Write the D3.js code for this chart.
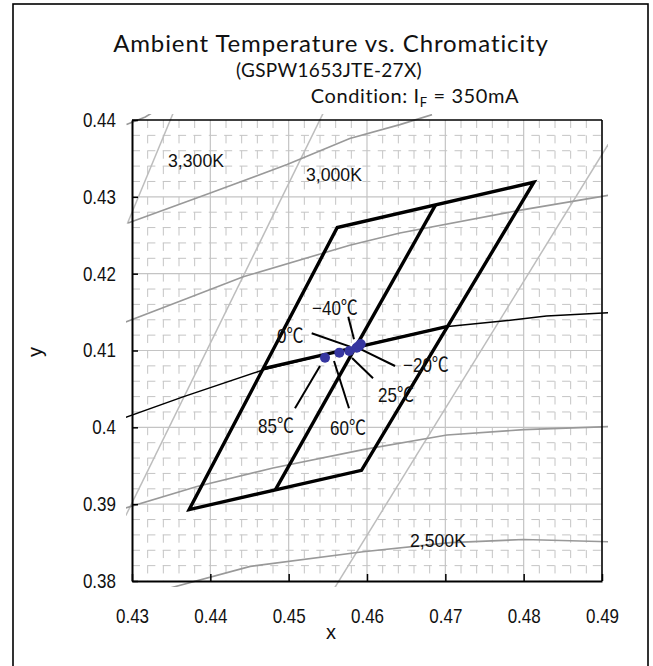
<!DOCTYPE html>
<html><head><meta charset="utf-8">
<script src="https://cdn.jsdelivr.net/npm/d3@7"></script>
<style>
html,body{margin:0;padding:0;background:#fff;}
svg{display:block;}
</style></head><body>
<svg id="chart" width="653" height="666"></svg>
<script>
// ---------- data ----------
const xTicks = [0.43, 0.44, 0.45, 0.46, 0.47, 0.48, 0.49];
const xTickLabels = ["0.43", "0.44", "0.45", "0.46", "0.47", "0.48", "0.49"];
const yTicks = [0.38, 0.39, 0.40, 0.41, 0.42, 0.43, 0.44];
const yTickLabels = ["0.38", "0.39", "0.4", "0.41", "0.42", "0.43", "0.44"];

// black-body locus (x, y)
const planckLocus = [[0.4292,0.4013],[0.4366,0.4040],[0.4468,0.4075],[0.4617,0.4112],[0.4700,0.4131],[0.4770,0.4138],[0.4829,0.4145],[0.4908,0.4149]];
// isotherm (CCT) lines
const iso3300 = [[0.4355,0.4415],[0.4294,0.4265]];
const iso3000 = [[0.4547,0.4415],[0.4292,0.3885]];
const iso2500 = [[0.4912,0.4375],[0.4555,0.3785]];
// Duv lines
const duvA = [[0.4293,0.4394],[0.4317,0.4404],[0.4330,0.4412]];
const duvB = [[0.4295,0.4266],[0.4400,0.4305],[0.4498,0.4342],[0.4578,0.4376],[0.4642,0.4394],[0.4683,0.4407]];
const duvC = [[0.4292,0.4137],[0.4366,0.4166],[0.4442,0.4196],[0.4578,0.4237],[0.4642,0.4253],[0.4798,0.4283],[0.4908,0.4302]];
const duvD = [[0.4292,0.3895],[0.4383,0.3923],[0.4480,0.3947],[0.4595,0.3971],[0.4702,0.3990],[0.4800,0.3997],[0.4908,0.4001]];
const duvE = [[0.4349,0.3791],[0.4451,0.3819],[0.4595,0.3838],[0.4706,0.3850],[0.4800,0.3854],[0.4908,0.3851]];
// ANSI quadrangle and its divisions
const quadOuter = [[0.4813,0.4319],[0.4562,0.4260],[0.4373,0.3893],[0.4593,0.3944]];
const quadDivA = [[0.46875,0.42895],[0.4483,0.39185]];
const quadDivB = [[0.44675,0.40765],[0.4703,0.41315]];
// measured chromaticity by ambient temperature
const tempLabels = ["85℃", "60℃", "25℃", "0℃", "−20℃", "−40℃"];
const tempX = [0.45464, 0.45647, 0.45774, 0.45869, 0.45900, 0.45920];
const tempY = [0.40906, 0.40972, 0.40994, 0.41037, 0.41060, 0.41085];
// annotation leaders (data coords) and label anchors, same order as tempLabels
const leaderFrom = [[0.45400,0.40798],[0.45579,0.40863],[0.45809,0.40902],[0.45783,0.41050],[0.45885,0.41033],[0.45834,0.41146]];
const leaderTo   = [[0.45081,0.40248],[0.45770,0.40248],[0.46077,0.40638],[0.45294,0.41224],[0.46358,0.40798],[0.45761,0.41440]];
const labelAt    = [[0.44609,0.39926],[0.45528,0.39900],[0.46141,0.40330],[0.44851,0.41098],[0.46460,0.40720],[0.45298,0.41462]];
const cctLabels = ["3,300K", "3,000K", "2,500K"];
const cctLabelAt = [[0.43460,0.43389],[0.45221,0.43206],[0.46549,0.38443]];

// ---------- layout ----------
const svg = d3.select("#chart");
const L = 132, R = 602, T = 120, B = 581;
const x = d3.scaleLinear().domain([0.43, 0.49]).range([L, R]);
const y = d3.scaleLinear().domain([0.38, 0.44]).range([B, T]);
const chartFont = "'Liberation Sans', Arial, 'Noto Sans CJK JP', sans-serif";
const titleFont = "Lato, 'Open Sans', sans-serif";
const NARROW = 0.85;

function narrowText(px, py, txt, size, sx) {
  return svg.append("text")
    .attr("transform", `translate(${px},${py}) scale(${sx},1)`)
    .attr("font-family", chartFont).attr("font-size", size).attr("fill", "#111").text(txt);
}

// outer frame
svg.append("rect").attr("x", 13).attr("y", 4).attr("width", 635).attr("height", 680)
  .attr("fill", "none").attr("stroke", "#000").attr("stroke-width", 1.6);

// titles
svg.append("text").attr("x", 331).attr("y", 52).attr("text-anchor", "middle")
  .attr("font-family", titleFont).attr("font-size", 24).attr("letter-spacing", 0.9).attr("fill", "#111")
  .text("Ambient Temperature vs. Chromaticity");
svg.append("text").attr("x", 329).attr("y", 77).attr("text-anchor", "middle")
  .attr("font-family", titleFont).attr("font-size", 19).attr("letter-spacing", 0.3).attr("fill", "#111")
  .text("(GSPW1653JTE-27X)");
const cond = svg.append("text").attr("x", 415).attr("y", 103).attr("text-anchor", "middle")
  .attr("font-family", titleFont).attr("font-size", 20).attr("letter-spacing", 0.6).attr("fill", "#111");
cond.append("tspan").text("Condition: I");
cond.append("tspan").attr("font-size", 13).attr("dy", 4).text("F");
cond.append("tspan").attr("dy", -4).text(" = 350mA");

// grid
const minorX = d3.range(0.432, 0.4899, 0.002).filter(v => Math.abs(v*100 - Math.round(v*100)) > 1e-6);
const minorY = d3.range(0.382, 0.4399, 0.002).filter(v => Math.abs(v*100 - Math.round(v*100)) > 1e-6);
const grid = svg.append("g");
grid.selectAll(".mh").data(minorY).join("line")
  .attr("x1", L).attr("x2", R).attr("y1", d => y(d)).attr("y2", d => y(d))
  .attr("stroke", "#c4c4c4").attr("stroke-width", 1).attr("stroke-dasharray", "8 7.36");
grid.selectAll(".mv").data(minorX).join("line")
  .attr("y1", T).attr("y2", B).attr("x1", d => x(d)).attr("x2", d => x(d))
  .attr("stroke", "#c4c4c4").attr("stroke-width", 1).attr("stroke-dasharray", "8 7.36");
grid.selectAll(".Mh").data(yTicks.slice(1, -1)).join("line")
  .attr("x1", L).attr("x2", R).attr("y1", d => y(d)).attr("y2", d => y(d))
  .attr("stroke", "#c4c4c4").attr("stroke-width", 1.2);
grid.selectAll(".Mv").data(xTicks.slice(1, -1)).join("line")
  .attr("y1", T).attr("y2", B).attr("x1", d => x(d)).attr("x2", d => x(d))
  .attr("stroke", "#c4c4c4").attr("stroke-width", 1.2);

// clip slightly larger than plot
svg.append("clipPath").attr("id", "clip").append("rect")
  .attr("x", L - 6).attr("y", T - 6).attr("width", R - L + 12).attr("height", B - T + 12);
const plot = svg.append("g").attr("clip-path", "url(#clip)");
const line = d3.line().x(d => x(d[0])).y(d => y(d[1]));

[iso3300, iso3000, iso2500].forEach(p => plot.append("path").attr("d", line(p))
  .attr("fill", "none").attr("stroke", "#bdbdbd").attr("stroke-width", 1.5));
[duvA, duvB, duvC, duvD, duvE].forEach(p => plot.append("path").attr("d", line(p))
  .attr("fill", "none").attr("stroke", "#999").attr("stroke-width", 1.6));
plot.append("path").attr("d", line(planckLocus)).attr("fill", "none")
  .attr("stroke", "#000").attr("stroke-width", 1.5);

// axes frame
svg.append("line").attr("x1", L).attr("x2", R).attr("y1", T).attr("y2", T).attr("stroke", "#000").attr("stroke-width", 1.6);
svg.append("line").attr("x1", R).attr("x2", R).attr("y1", T).attr("y2", B).attr("stroke", "#000").attr("stroke-width", 1.6);

const xAxis = svg.append("g").attr("transform", `translate(0,${B})`)
  .call(d3.axisBottom(x).tickValues(xTicks).tickSize(-7).tickSizeOuter(0).tickPadding(28)
    .tickFormat((d, i) => xTickLabels[i]));
const yAxis = svg.append("g").attr("transform", `translate(${L},0)`)
  .call(d3.axisLeft(y).tickValues(yTicks).tickSize(-6).tickSizeOuter(0).tickPadding(16 / NARROW)
    .tickFormat((d, i) => yTickLabels[i]));
[xAxis, yAxis].forEach(a => {
  a.select(".domain").attr("stroke", "#000").attr("stroke-width", 2);
  a.selectAll(".tick line").attr("stroke", "#000").attr("stroke-width", 1.5);
  a.selectAll(".tick text").attr("font-family", chartFont).attr("font-size", 20).attr("fill", "#111")
    .attr("transform", `scale(${NARROW},1)`);
});

// quadrangles
plot.append("path").attr("d", line(quadOuter) + "Z").attr("fill", "none")
  .attr("stroke", "#000").attr("stroke-width", 3.4).attr("stroke-linejoin", "miter");
[quadDivA, quadDivB].forEach(p => plot.append("path").attr("d", line(p))
  .attr("fill", "none").attr("stroke", "#000").attr("stroke-width", 3.4));

// leaders
leaderFrom.forEach((f, i) => svg.append("line")
  .attr("x1", x(f[0])).attr("y1", y(f[1])).attr("x2", x(leaderTo[i][0])).attr("y2", y(leaderTo[i][1]))
  .attr("stroke", "#000").attr("stroke-width", 2));

// points
svg.selectAll(".pt").data(tempX).join("circle")
  .attr("cx", d => x(d)).attr("cy", (d, i) => y(tempY[i])).attr("r", 5)
  .attr("fill", "#3636a0");

// labels
tempLabels.forEach((t, i) => narrowText(x(labelAt[i][0]), y(labelAt[i][1]), t, 20, NARROW));
cctLabels.forEach((t, i) => narrowText(x(cctLabelAt[i][0]), y(cctLabelAt[i][1]), t, 19, 0.93));

// axis titles
svg.append("text").attr("x", 331).attr("y", 639).attr("text-anchor", "middle")
  .attr("font-family", chartFont).attr("font-size", 20).attr("fill", "#111").text("x");
svg.append("text").attr("transform", "translate(42,352) rotate(-90)").attr("text-anchor", "middle")
  .attr("font-family", chartFont).attr("font-size", 20).attr("fill", "#111").text("y");
</script>
</body></html>
